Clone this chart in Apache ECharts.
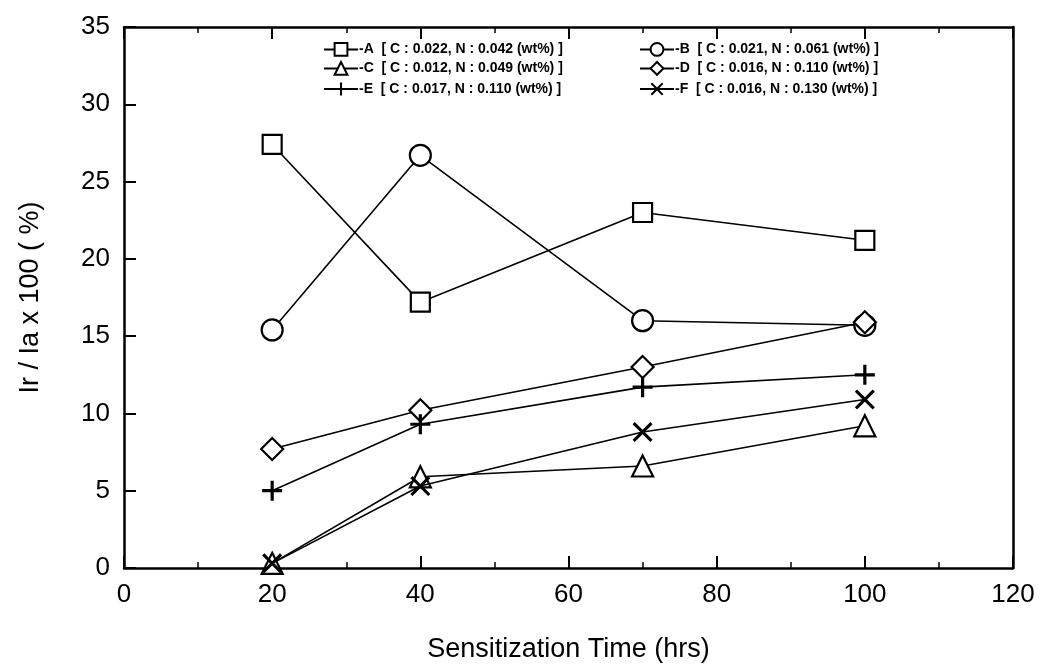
<!DOCTYPE html>
<html><head><meta charset="utf-8">
<script src="https://cdn.jsdelivr.net/npm/echarts@6/dist/echarts.min.js"></script>
<style>html,body{margin:0;padding:0;background:#fff}#c{width:1044px;height:672px}</style>
</head><body><div id="c"></div>
<script>
const times = [20, 40, 70, 100];
const seriesNames = ['A','B','C','D','E','F'];
const legendTexts = [
  '-A  [ C : 0.022, N : 0.042 (wt%) ]',
  '-B  [ C : 0.021, N : 0.061 (wt%) ]',
  '-C  [ C : 0.012, N : 0.049 (wt%) ]',
  '-D  [ C : 0.016, N : 0.110 (wt%) ]',
  '-E  [ C : 0.017, N : 0.110 (wt%) ]',
  '-F  [ C : 0.016, N : 0.130 (wt%) ]'
];
const valuesA = [27.4, 17.2, 23.0, 21.2];
const valuesB = [15.4, 26.7, 16.0, 15.7];
const valuesC = [0.3, 5.9, 6.6, 9.2];
const valuesD = [7.7, 10.2, 13.0, 15.9];
const valuesE = [5.0, 9.3, 11.7, 12.5];
const valuesF = [0.3, 5.3, 8.8, 10.9];
const xTicks = [0, 20, 40, 60, 80, 100, 120];
const yTicks = [0, 5, 10, 15, 20, 25, 30, 35];

const allValues = [valuesA, valuesB, valuesC, valuesD, valuesE, valuesF];
const plusPath = 'path://M4.2,0H5.8V4.2H10V5.8H5.8V10H4.2V5.8H0V4.2H4.2Z';
const xPath = 'path://M1.1,0L5,3.9L8.9,0L10,1.1L6.1,5L10,8.9L8.9,10L5,6.1L1.1,10L0,8.9L3.9,5L0,1.1Z';
const symbols = ['rect','circle','triangle','diamond',plusPath,xPath];
const sizes = [19, 21, 21, 22, 20, 20];
const hollow = [true,true,true,true,false,false];

const series = seriesNames.map((n,i)=>({
  name: n,
  type: 'line',
  data: times.map((t,j)=>[t, allValues[i][j]]),
  symbol: symbols[i],
  symbolSize: sizes[i],
  showAllSymbol: true,
  lineStyle: {color:'#000', width:1.6},
  itemStyle: hollow[i] ? {color:'#fff', borderColor:'#000', borderWidth:2.2} : {color:'#000', borderWidth:0},
  z: 3 + i,
  animation: false
}));

const legendPos = [[318,37],[634,37],[318,56],[634,56],[318,77],[634,77]];
const legends = seriesNames.map((n,i)=>({
  data:[n], left: legendPos[i][0], top: legendPos[i][1],
  itemWidth: 34, itemHeight: 16, itemGap: 0,
  formatter: ()=>legendTexts[i],
  textStyle:{fontFamily:'Liberation Sans', fontSize:14, fontWeight:'bold', color:'#000', padding:[0,0,0,-4]},
  selectedMode:false
}));

const chart = echarts.init(document.getElementById('c'), null, {renderer:'canvas'});
chart.setOption({
  backgroundColor:'#fff',
  animation:false,
  legend: legends,
  grid:{left:124, right:31, top:27, bottom:104},
  xAxis:[
    {type:'value', min:0, max:120, interval:20, position:'bottom',
      name:'Sensitization Time (hrs)', nameLocation:'middle', nameGap:68,
      nameTextStyle:{fontFamily:'Liberation Sans', fontSize:27, color:'#000'},
      axisLine:{show:true, onZero:false, lineStyle:{color:'#000', width:2.5}},
      splitLine:{show:false},
      axisTick:{inside:true, length:12, lineStyle:{color:'#000', width:2}},
      minorTick:{show:true, splitNumber:2, length:6, lineStyle:{color:'#000', width:1.5}},
      axisLabel:{fontFamily:'Liberation Sans', fontSize:26, color:'#000', margin:14,
        formatter:(v)=> xTicks.includes(v) ? String(v) : ''}
    },
    {type:'value', min:0, max:120, interval:20, position:'top',
      axisLine:{show:true, onZero:false, lineStyle:{color:'#000', width:2.5}},
      splitLine:{show:false},
      axisTick:{inside:true, length:12, lineStyle:{color:'#000', width:2}},
      minorTick:{show:true, splitNumber:2, length:6, lineStyle:{color:'#000', width:1.5}},
      axisLabel:{show:false}
    }
  ],
  yAxis:[
    {type:'value', min:0, max:35, interval:5, position:'left',
      name:'Ir / Ia x 100 ( %)', nameLocation:'middle', nameGap:80,
      nameTextStyle:{fontFamily:'Liberation Sans', fontSize:27, color:'#000'},
      axisLine:{show:true, onZero:false, lineStyle:{color:'#000', width:2.5}},
      splitLine:{show:false},
      axisTick:{inside:true, length:12, lineStyle:{color:'#000', width:2}},
      axisLabel:{fontFamily:'Liberation Sans', fontSize:26, color:'#000', margin:14,
        formatter:(v)=> yTicks.includes(v) ? String(v) : ''}
    },
    {type:'value', min:0, max:35, interval:5, position:'right',
      axisLine:{show:true, onZero:false, lineStyle:{color:'#000', width:2.5}},
      splitLine:{show:false},
      axisTick:{show:false},
      axisLabel:{show:false}
    }
  ],
  series: series
});
</script></body></html>
